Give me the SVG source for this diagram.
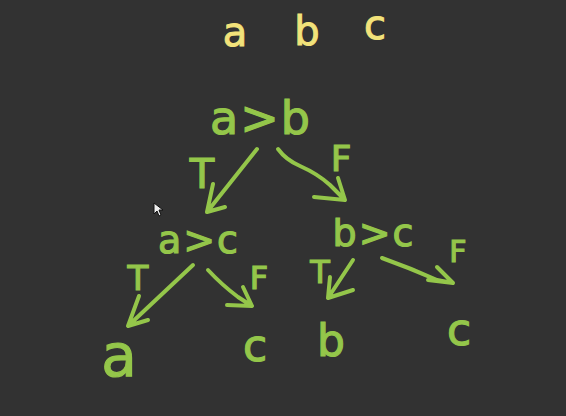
<svg xmlns="http://www.w3.org/2000/svg" width="566" height="416" viewBox="0 0 566 416">
<style>
.g{fill:#94c64a;stroke:#94c64a;stroke-width:1.2;font-family:"DejaVu Sans",sans-serif;text-anchor:middle}
.y{fill:#f2e27a;stroke:#f2e27a;stroke-width:1;font-family:"DejaVu Sans",sans-serif;text-anchor:middle;font-size:40px}
.e{fill:none;stroke:#94c64a;stroke-width:4;stroke-linecap:round;stroke-linejoin:round}
</style>
<rect width="566" height="416" fill="#323232"/>
<g id="header">
<text class="y" x="235" y="46">a</text>
<text class="y" x="307" y="45">b</text>
<text class="y" x="375" y="39">c</text>
</g>
<g id="node-ab">
<text class="g" x="261" y="134" font-size="46" letter-spacing="2">a&gt;b</text>
</g>
<g id="node-ac">
<text class="g" x="199" y="253" font-size="38" letter-spacing="2">a&gt;c</text>
</g>
<g id="node-bc">
<text class="g" x="374" y="246" font-size="38" letter-spacing="2">b&gt;c</text>
</g>
<g id="leaf-a"><text class="g" x="119" y="376" font-size="58">a</text></g>
<g id="leaf-c1"><text class="g" x="255" y="361" font-size="44">c</text></g>
<g id="leaf-b"><text class="g" x="331" y="356" font-size="44">b</text></g>
<g id="leaf-c2"><text class="g" x="459" y="345" font-size="44">c</text></g>
<g id="connectors">
<path class="e" d="M257,149 L207,212 M213,184 L207,212 L225,207"/>
<path class="e" d="M278,149 Q286,160 300,166 Q318,174 330,185 L345,200 M338,178 L345,200 L314,197"/>
<path class="e" d="M193,265 L128,326 M139,296 L128,326 L148,320"/>
<path class="e" d="M208,270 Q222,285 238,297 L252,306 M243,287 L252,306 L227,305"/>
<path class="e" d="M353,260 L328,298 M330,277 L328,298 L353,290"/>
<path class="e" d="M382,258 Q410,268 437,280 L453,283 M437,267 L453,283 L428,280"/>
<text class="g" x="202" y="188" font-size="40">T</text>
<text class="g" x="341" y="171" font-size="36">F</text>
<text class="g" x="138" y="290" font-size="34">T</text>
<text class="g" x="259" y="289" font-size="32">F</text>
<text class="g" x="320" y="283" font-size="32">T</text>
<text class="g" x="458" y="262" font-size="30">F</text>
</g>
<path d="M154,203 L154,214 L157,211 L159,216 L161,215 L159,210 L163,210 Z" fill="#eeeeee" stroke="#111" stroke-width="1"/>
</svg>
